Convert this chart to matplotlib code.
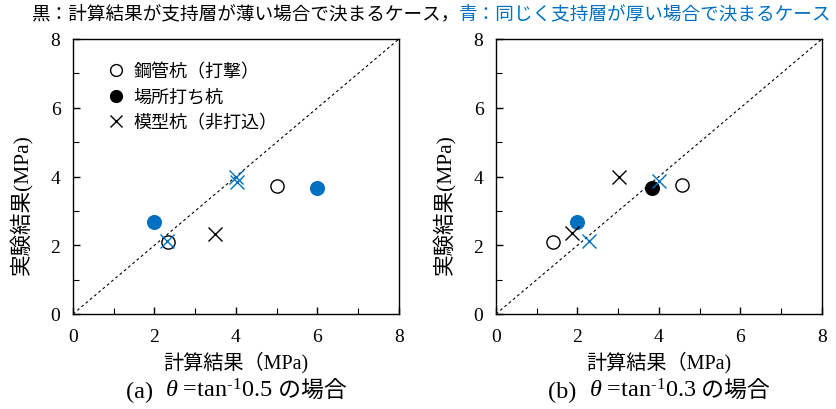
import matplotlib
matplotlib.use("Agg")
import matplotlib.pyplot as plt
from matplotlib.lines import Line2D
from matplotlib.offsetbox import TextArea, HPacker, AnchoredOffsetbox

plt.rcParams['font.family'] = ['Liberation Serif', 'Noto Sans CJK JP']
plt.rcParams['mathtext.fontset'] = 'custom'
plt.rcParams['mathtext.rm'] = 'Liberation Serif'
plt.rcParams['mathtext.it'] = 'Liberation Serif:italic'

BLACK = '#000000'
BLUE = '#0070C0'

# ---- data: panel (a) theta = tan^-1 0.5 ----
a_open_black_x = [2.34, 5.00]
a_open_black_y = [2.10, 3.73]
a_fill_blue_x = [2.00, 5.98]
a_fill_blue_y = [2.67, 3.67]
a_cross_black_x = [3.49]
a_cross_black_y = [2.33]
a_cross_blue_x = [2.30, 3.99, 4.02]
a_cross_blue_y = [2.13, 3.98, 3.85]

# ---- data: panel (b) theta = tan^-1 0.3 ----
b_open_black_x = [1.41, 4.57]
b_open_black_y = [2.10, 3.75]
b_fill_black_x = [3.82]
b_fill_black_y = [3.67]
b_fill_blue_x = [1.99]
b_fill_blue_y = [2.69]
b_cross_black_x = [1.87, 3.03]
b_cross_black_y = [2.35, 4.00]
b_cross_blue_x = [2.27, 3.99]
b_cross_blue_y = [2.11, 3.86]

axis_ticks = [0, 2, 4, 6, 8]
minor_ticks = [1, 3, 5, 7]
legend_labels = ['鋼管杭（打撃）', '場所打ち杭', '模型杭（非打込）']
xlabel = '計算結果（MPa)'
ylabel = '実験結果(MPa)'
title_black = '黒：計算結果が支持層が薄い場合で決まるケース，'
title_blue = '青：同じく支持層が厚い場合で決まるケース'
captions = [('(a)  ', r'$\theta$ =tan$^{\text{-1}}$0.5', ' の場合'),
            ('(b)  ', r'$\theta$ =tan$^{\text{-1}}$0.3', ' の場合')]

fig = plt.figure(figsize=(8.37, 4.10), dpi=100)
ax1 = fig.add_axes([73/837, 95/410, 326/837, 275/410])
ax2 = fig.add_axes([496/837, 95/410, 326/837, 275/410])

MS = 9.5


def open_c(ax, x, y, c):
    ax.plot(x, y, 'o', ms=MS, mfc='white', mec=c, mew=1.0, ls='none', zorder=3)


def fill_c(ax, x, y, c):
    ax.plot(x, y, 'o', ms=MS + 0.5, mfc=c, mec=c, mew=0.8, ls='none', zorder=3)


def cross(ax, x, y, c):
    ax.plot(x, y, 'x', ms=MS, mec=c, mew=1.0, ls='none', zorder=4)


def style(ax):
    ax.plot([0, 8], [0, 8], color='black', lw=0.8, ls=(0, (2.5, 2.5)), zorder=2)
    ax.set_xlim(0, 8)
    ax.set_ylim(0, 8)
    ax.set_xticks(axis_ticks)
    ax.set_yticks(axis_ticks)
    ax.set_xticks(minor_ticks, minor=True)
    ax.set_yticks(minor_ticks, minor=True)
    ax.tick_params(which='both', direction='in', labelsize=14, length=5, width=1)
    ax.tick_params(which='minor', length=4, width=0.8)
    ax.tick_params(axis='x', pad=10)
    ax.tick_params(axis='y', pad=9)
    for s in ax.spines.values():
        s.set_linewidth(1.0)
    ax.set_xlabel(xlabel, fontsize=14.5, labelpad=4)
    ax.set_ylabel(ylabel, fontsize=15.5)
    ax.yaxis.set_label_coords(-0.125, 0.40)


# panel (a)
open_c(ax1, a_open_black_x, a_open_black_y, BLACK)
fill_c(ax1, a_fill_blue_x, a_fill_blue_y, BLUE)
cross(ax1, a_cross_black_x, a_cross_black_y, BLACK)
cross(ax1, a_cross_blue_x, a_cross_blue_y, BLUE)
style(ax1)

# panel (b)
open_c(ax2, b_open_black_x, b_open_black_y, BLACK)
fill_c(ax2, b_fill_black_x, b_fill_black_y, BLACK)
cross(ax2, b_cross_black_x, b_cross_black_y, BLACK)
fill_c(ax2, b_fill_blue_x, b_fill_blue_y, BLUE)
cross(ax2, b_cross_blue_x, b_cross_blue_y, BLUE)
style(ax2)

# legend (panel a)
handles = [
    Line2D([], [], marker='o', ls='none', ms=MS - 1, mfc='white', mec='black', mew=1.0),
    Line2D([], [], marker='o', ls='none', ms=MS - 1, mfc='black', mec='black'),
    Line2D([], [], marker='x', ls='none', ms=MS - 1, mec='black', mew=1.0),
]
leg = ax1.legend(handles, legend_labels, loc='upper left', bbox_to_anchor=(0.105, 0.915),
                 frameon=False, prop={'family': ['Noto Sans CJK JP'], 'size': 13},
                 handlelength=1.0, handletextpad=0.45, labelspacing=0.42,
                 borderaxespad=0, borderpad=0)

# title (two colours)
cjk = {'family': ['Noto Sans CJK JP'], 'size': 13.4}
t1 = TextArea(title_black, textprops=dict(color='black', **cjk))
t2 = TextArea(title_blue, textprops=dict(color=BLUE, **cjk))
box = HPacker(children=[t1, t2], align='baseline', pad=0, sep=0)
anc = AnchoredOffsetbox(loc='upper left', child=box, pad=0, frameon=False,
                        bbox_to_anchor=(31/837, 1 - 5/410), bbox_transform=fig.transFigure,
                        borderpad=0)
fig.add_artist(anc)

# captions
for ax, (p, m, j) in zip([ax1, ax2], captions):
    c1 = TextArea(p, textprops=dict(size=17.5, family=['Liberation Serif']))
    c2 = TextArea(m, textprops=dict(size=17.5, family=['Liberation Serif']))
    c3 = TextArea(j, textprops=dict(size=16.5, family=['Noto Sans CJK JP']))
    hb = HPacker(children=[c1, c2, c3], align='baseline', pad=0, sep=0)
    bb = ax.get_position()
    an = AnchoredOffsetbox(loc='center', child=hb, pad=0, frameon=False,
                           bbox_to_anchor=((bb.x0 + bb.x1) / 2 - 0.0, 1 - 391/410),
                           bbox_transform=fig.transFigure, borderpad=0)
    fig.add_artist(an)

fig.savefig('out.png', dpi=100)
